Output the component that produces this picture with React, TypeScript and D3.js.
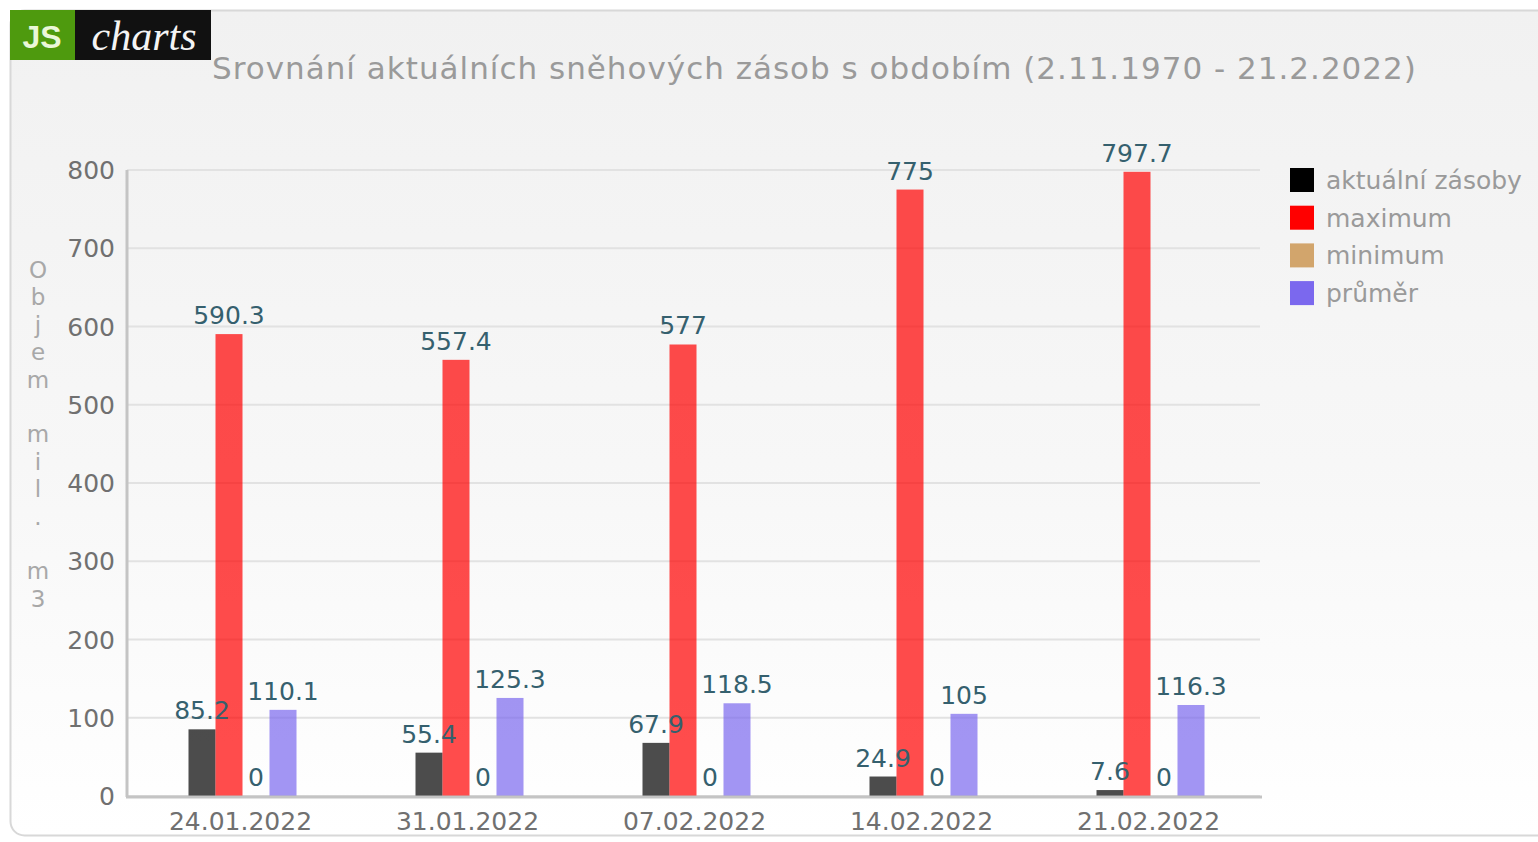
import React from "react";
import * as d3 from "d3";

const categories = ["24.01.2022", "31.01.2022", "07.02.2022", "14.02.2022", "21.02.2022"];
const seriesNames = ["aktuální zásoby", "maximum", "minimum", "průměr"];
const seriesColors = ["#000000", "#ff0000", "#d2a56c", "#7b68ee"];
const aktualni = [85.2, 55.4, 67.9, 24.9, 7.6];
const maximum = [590.3, 557.4, 577, 775, 797.7];
const minimum = [0, 0, 0, 0, 0];
const prumer = [110.1, 125.3, 118.5, 105, 116.3];
const yTicks = [0, 100, 200, 300, 400, 500, 600, 700, 800];
const title = "Srovnání aktuálních sněhových zásob s obdobím (2.11.1970 - 21.2.2022)";
const yAxisTitle = "Objem mil. m3";

const W = 1538, H = 842;
const plot = { left: 127, right: 1262, top: 170, bottom: 796 };
const FONT = "'DejaVu Sans', Verdana, sans-serif";

export default function App() {
  const series = [aktualni, maximum, minimum, prumer];
  const x = d3.scaleBand<string>().domain(categories).range([plot.left, plot.right]).paddingInner(0).paddingOuter(0);
  const y = d3.scaleLinear().domain([0, 800]).range([plot.bottom, plot.top]);
  const barW = 27;
  const groupW = barW * series.length;
  const inner = d3.scaleBand<number>().domain(d3.range(series.length)).range([0, groupW]);
  const groupX = (c: string) => (x(c) as number) + (x.bandwidth() - groupW) / 2 + 2;

  return (
    <svg width={W} height={H} style={{ position: "absolute", left: 0, top: 0 }}>
      <defs>
        <linearGradient id="bg" x1="0" y1="0" x2="0" y2="1">
          <stop offset="0" stopColor="#f1f1f1" />
          <stop offset="0.55" stopColor="#f7f7f7" />
          <stop offset="1" stopColor="#ffffff" />
        </linearGradient>
      </defs>
      <rect x={0} y={0} width={W} height={H} fill="#ffffff" />
      <rect x={10.5} y={10.5} width={1560} height={825} rx={14} fill="url(#bg)" stroke="#d8d8d8" strokeWidth={2} />

      {/* logo */}
      <rect x={10} y={10} width={65} height={50} fill="#4e9a0e" />
      <rect x={75} y={10} width={136} height={50} fill="#111111" />
      <text x={42} y={48} textAnchor="middle" fontFamily="'Liberation Sans', Arial, sans-serif" fontWeight="bold" fontSize={32} fill="#eaf7d8">JS</text>
      <text x={144} y={50} textAnchor="middle" fontFamily="'Liberation Serif', serif" fontStyle="italic" fontSize={42} fill="#f4f4f4">charts</text>

      {/* title */}
      <text x={212} y={79} fontFamily={FONT} fontSize={31} letterSpacing={1.0} fill="#9a9a9a">{title}</text>

      {/* grid */}
      {yTicks.map((t) => (
        <line key={"g" + t} x1={plot.left} x2={plot.right - 2} y1={y(t)} y2={y(t)} stroke="#e2e2e2" strokeWidth={2} />
      ))}

      {/* y tick labels */}
      {yTicks.map((t) => (
        <text key={"yt" + t} x={115} y={y(t) + 9} textAnchor="end" fontFamily={FONT} fontSize={25} fill="#707070">{t}</text>
      ))}

      {/* y axis title stacked */}
      {Array.from(yAxisTitle).map((ch, i) => (
        <text key={"ya" + i} x={38} y={278 + i * 27.4} textAnchor="middle" fontFamily={FONT} fontSize={23} fill="#a8a8a8">{ch}</text>
      ))}

      {/* bars */}
      {categories.map((c, ci) => {
        const gx = groupX(c);
        return (
          <g key={c}>
            {series.map((s, si) => (
              <rect key={si} x={gx + (inner(si) as number)} y={y(s[ci])} width={barW} height={plot.bottom - y(s[ci])}
                fill={seriesColors[si]} fillOpacity={0.7} />
            ))}
          </g>
        );
      })}

      {/* axes */}
      <line x1={plot.left} x2={plot.left} y1={plot.top} y2={plot.bottom + 1} stroke="#c4c4c4" strokeWidth={3} />
      <line x1={plot.left - 1} x2={plot.right} y1={plot.bottom + 1} y2={plot.bottom + 1} stroke="#c4c4c4" strokeWidth={3} />

      {/* value labels */}
      {categories.map((c, ci) => {
        const gx = groupX(c);
        return series.map((s, si) => (
          <text key={c + "v" + si} x={gx + (inner(si) as number) + barW / 2} y={y(s[ci]) - 10} textAnchor="middle"
            fontFamily={FONT} fontSize={25} fill="#35606e">{String(s[ci])}</text>
        ));
      })}

      {/* x labels */}
      {categories.map((c) => (
        <text key={"xl" + c} x={(x(c) as number) + x.bandwidth() / 2} y={830} textAnchor="middle" fontFamily={FONT} fontSize={25} fill="#707070">{c}</text>
      ))}

      {/* legend */}
      {seriesNames.map((n, i) => (
        <g key={n}>
          <rect x={1290} y={168 + i * 37.7} width={24} height={24} fill={seriesColors[i]} />
          <text x={1326} y={189 + i * 37.7} fontFamily={FONT} fontSize={25} fill="#9a9a9a">{n}</text>
        </g>
      ))}
    </svg>
  );
}
